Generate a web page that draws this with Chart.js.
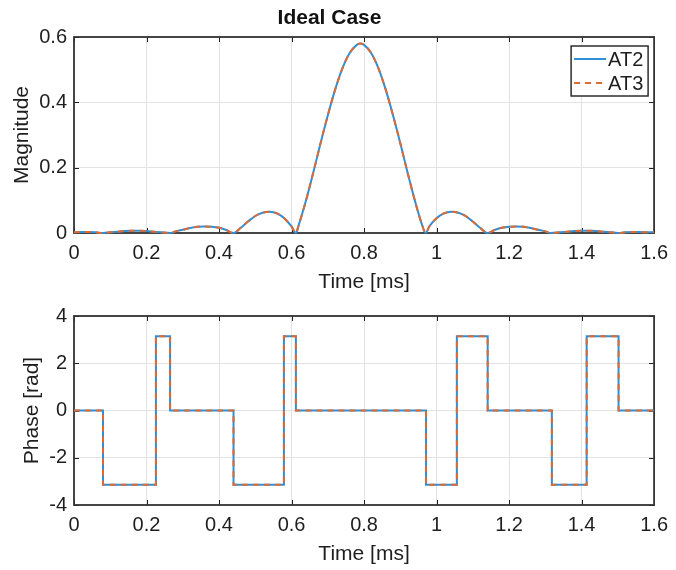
<!DOCTYPE html>
<html>
<head>
<meta charset="utf-8">
<script src="https://cdn.jsdelivr.net/npm/chart.js@4/dist/chart.umd.min.js"></script>
<style>
	body { margin: 0; background: #fff; }
	.plot { position: absolute; left: 0; }
</style>
</head>
<body>
<div class="plot" style="top:0"><canvas id="magChart" width="676" height="297"></canvas></div>
<div class="plot" style="top:297px"><canvas id="phaseChart" width="676" height="273"></canvas></div>
<script>
// magnitude (AT2 and AT3 lie on top of each other)
const magTime = [
	0, 0.02, 0.04, 0.06, 0.08,
	0.10, 0.12, 0.14, 0.16, 0.18, 0.20, 0.22, 0.24, 0.265,
	0.28, 0.30, 0.32, 0.34, 0.36, 0.38, 0.40, 0.42, 0.44,
	0.46, 0.48, 0.50, 0.52, 0.54, 0.56, 0.58, 0.60, 0.612,
	0.62, 0.64, 0.66, 0.68, 0.70, 0.72, 0.74, 0.76, 0.78, 0.79,
	0.80, 0.82, 0.84, 0.86, 0.88, 0.90, 0.92, 0.94, 0.96, 0.97,
	0.98, 1.00, 1.02, 1.04, 1.06, 1.08, 1.10, 1.12, 1.14,
	1.16, 1.18, 1.20, 1.22, 1.24, 1.26, 1.28, 1.30, 1.315,
	1.34, 1.36, 1.38, 1.40, 1.42, 1.44, 1.46, 1.48, 1.50,
	1.52, 1.54, 1.56, 1.58, 1.60
]
const magAT2 = [
	0.002, 0.003, 0.003, 0.002, 0,
	0.002, 0.004, 0.006, 0.007, 0.007, 0.006, 0.004, 0.002, 0,
	0.005, 0.010, 0.015, 0.019, 0.020, 0.019, 0.016, 0.009, 0,
	0.016, 0.035, 0.052, 0.062, 0.065, 0.060, 0.045, 0.020, 0,
	0.025, 0.100, 0.185, 0.275, 0.360, 0.438, 0.503, 0.550, 0.576, 0.580,
	0.576, 0.550, 0.503, 0.438, 0.360, 0.275, 0.185, 0.100, 0.025, 0,
	0.020, 0.045, 0.060, 0.065, 0.062, 0.052, 0.035, 0.016, 0,
	0.009, 0.016, 0.019, 0.020, 0.019, 0.015, 0.010, 0.005, 0,
	0.002, 0.004, 0.006, 0.007, 0.007, 0.006, 0.004, 0.002, 0,
	0.002, 0.003, 0.003, 0.002, 0.002
]
const magAT3 = [...magAT2]

// phase: each value holds from its time until the next one
const phaseTime = [0, 0.08, 0.226, 0.265, 0.44, 0.579, 0.612, 0.971, 1.056, 1.141, 1.318, 1.414, 1.502, 1.6]
const phaseAT2 = [0, -3.14, 3.14, 0, -3.14, 3.14, 0, -3.14, 3.14, 0, -3.14, 3.14, 0, 0]
const phaseAT3 = [...phaseAT2]

const seriesNames = ["AT2", "AT3"]
const blue = "#2f8fd6"
const orange = "#dd6a33"
const ink = "#1e1e1e"
const font = "'Liberation Sans', Arial, Helvetica, sans-serif"

function toPoints(xs, ys) {
	return xs.map((x, i) => ({ x: x, y: ys[i] }))
}

// axes box with inward tick marks, like the original
const boxPlugin = {
	id: "box",
	beforeDatasetsDraw(chart) {
		const { ctx, chartArea: a, scales } = chart
		ctx.save()
		ctx.strokeStyle = ink
		ctx.lineWidth = 1
		ctx.beginPath()
		scales.x.ticks.forEach(t => {
			const px = Math.round(scales.x.getPixelForValue(t.value)) + 0.5
			ctx.moveTo(px, a.bottom); ctx.lineTo(px, a.bottom - 5)
			ctx.moveTo(px, a.top); ctx.lineTo(px, a.top + 5)
		})
		scales.y.ticks.forEach(t => {
			const py = Math.round(scales.y.getPixelForValue(t.value)) + 0.5
			ctx.moveTo(a.left, py); ctx.lineTo(a.left + 5, py)
			ctx.moveTo(a.right, py); ctx.lineTo(a.right - 5, py)
		})
		ctx.stroke()
		ctx.lineWidth = 1.8
		ctx.strokeStyle = "#333"
		ctx.strokeRect(a.left, a.top, a.right - a.left, a.bottom - a.top)
		ctx.restore()
	}
}

// boxed legend in the top right corner of the plot
const legendPlugin = {
	id: "boxLegend",
	afterDatasetsDraw(chart) {
		const { ctx, chartArea: a } = chart
		const x0 = a.right - 83, y0 = a.top + 9, w = 77, h = 50
		ctx.save()
		ctx.fillStyle = "#fff"
		ctx.fillRect(x0, y0, w, h)
		ctx.strokeStyle = ink
		ctx.lineWidth = 1.4
		ctx.strokeRect(x0, y0, w, h)
		chart.data.datasets.forEach((ds, i) => {
			const y = y0 + 13 + i * 24
			ctx.beginPath()
			ctx.strokeStyle = ds.borderColor
			ctx.lineWidth = 2
			ctx.setLineDash(ds.borderDash || [])
			ctx.moveTo(x0 + 3, y)
			ctx.lineTo(x0 + 35, y)
			ctx.stroke()
			ctx.setLineDash([])
			ctx.fillStyle = ink
			ctx.font = "20px " + font
			ctx.textBaseline = "middle"
			ctx.fillText(ds.label, x0 + 37, y + 1)
		})
		ctx.restore()
	}
}

function makeChart(id, opts) {
	return new Chart(id, {
		type: "line",
		data: {
			datasets: [
				{
					label: seriesNames[0],
					data: opts.first,
					order: 1,
					borderColor: blue,
					borderWidth: 2,
					pointRadius: 0,
					stepped: opts.stepped,
					cubicInterpolationMode: "monotone",
					clip: 4
				},
				{
					label: seriesNames[1],
					data: opts.second,
					order: 0,
					borderColor: orange,
					borderWidth: 2,
					borderDash: [6, 5],
					pointRadius: 0,
					stepped: opts.stepped,
					cubicInterpolationMode: "monotone",
					clip: 4
				}
			]
		},
		options: {
			responsive: false,
			animation: false,
			layout: { padding: { left: 0, right: 17, top: opts.padTop, bottom: 0 } },
			plugins: {
				legend: { display: false },
				tooltip: { enabled: false },
				title: {
					display: opts.title !== "",
					text: opts.title,
					color: "#111",
					font: { family: font, size: 21, weight: "bold", lineHeight: 1.2 },
					padding: { top: 5.4, bottom: 6.4 }
				}
			},
			scales: {
				x: {
					type: "linear",
					min: 0,
					max: 1.6,
					afterFit: s => { s.height = opts.xHeight },
					grid: { color: "#e3e3e3", drawTicks: false },
					border: { display: false },
					ticks: {
						stepSize: 0.2,
						padding: 8,
						color: ink,
						font: { family: font, size: 20 },
						callback: v => String(Number(v.toFixed(1)))
					},
					title: {
						display: true,
						text: "Time [ms]",
						color: ink,
						font: { family: font, size: 21, lineHeight: 1.2 },
						padding: { top: 0, bottom: opts.xTitlePad }
					}
				},
				y: {
					min: opts.yMin,
					max: opts.yMax,
					afterFit: s => { s.width = 74 },
					grid: { color: "#e3e3e3", drawTicks: false },
					border: { display: false },
					ticks: {
						stepSize: opts.yStep,
						padding: 7,
						color: ink,
						font: { family: font, size: 20 },
						callback: v => String(Number(v.toFixed(1)))
					},
					title: {
						display: true,
						text: opts.yLabel,
						color: ink,
						font: { family: font, size: 21, lineHeight: 1.2 },
						padding: { top: opts.yTitlePad, bottom: 0 }
					}
				}
			}
		},
		plugins: opts.legend ? [boxPlugin, legendPlugin] : [boxPlugin]
	})
}

makeChart("magChart", {
	first: toPoints(magTime, magAT2),
	second: toPoints(magTime, magAT3),
	stepped: false,
	title: "Ideal Case",
	padTop: 0,
	xHeight: 64,
	xTitlePad: 2.4,
	yMin: 0, yMax: 0.6, yStep: 0.2,
	yLabel: "Magnitude",
	yTitlePad: 9.4,
	legend: true
})

makeChart("phaseChart", {
	first: toPoints(phaseTime, phaseAT2),
	second: toPoints(phaseTime, phaseAT3),
	stepped: "before",
	title: "",
	padTop: 12,
	xHeight: 65,
	xTitlePad: 3.4,
	yMin: -4, yMax: 4, yStep: 2,
	yLabel: "Phase [rad]",
	yTitlePad: 20,
	legend: false
})
</script>
</body>
</html>
